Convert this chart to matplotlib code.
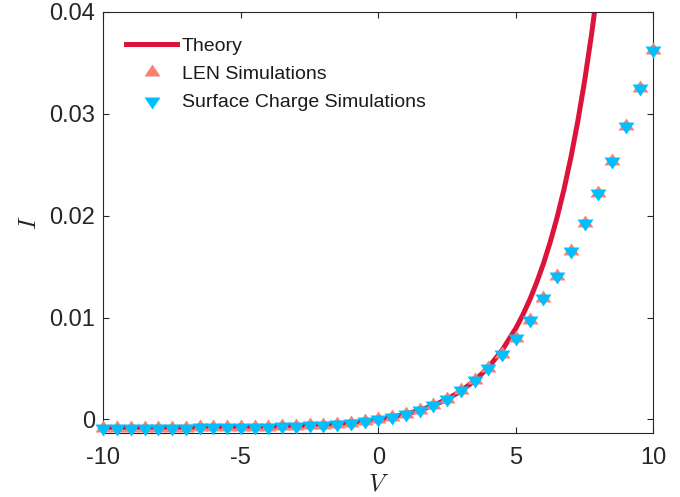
import numpy as np
import matplotlib
matplotlib.use("Agg")
import matplotlib.pyplot as plt

plt.rcParams['font.family'] = ['Liberation Sans', 'DejaVu Sans']
plt.rcParams['mathtext.fontset'] = 'cm'
plt.rcParams['axes.unicode_minus'] = False

# theory curve
v_theory = [-10, -9.5, -9, -8.5, -8, -7.5, -7, -6.5, -6, -5.5, -5, -4.5, -4, -3.5, -3,
            -2.5, -2, -1.5, -1, -0.5, 0, 0.5, 1, 1.5, 2, 2.5, 3, 3.5, 4, 4.5, 5, 5.25,
            5.5, 5.75, 6, 6.25, 6.5, 6.75, 7, 7.25, 7.5, 7.75, 8]
i_theory = [-0.000795, -0.000793, -0.000791, -0.000789, -0.000785, -0.000781, -0.000776,
            -0.000769, -0.000760, -0.000749, -0.000734, -0.000716, -0.000692, -0.000661,
            -0.000622, -0.000571, -0.000506, -0.000422, -0.000315, -0.000177, 0.0,
            0.000227, 0.000519, 0.000894, 0.001375, 0.001992, 0.002785, 0.003804,
            0.005111, 0.00679, 0.008946, 0.010243, 0.011714, 0.013384, 0.015268,
            0.017408, 0.019832, 0.022578, 0.025692, 0.029216, 0.033217, 0.037744, 0.042878]

# simulation points
v_sim = [-10, -9.5, -9, -8.5, -8, -7.5, -7, -6.5, -6, -5.5, -5, -4.5, -4, -3.5, -3, -2.5,
         -2, -1.5, -1, -0.5, 0, 0.5, 1, 1.5, 2, 2.5, 3, 3.5, 4, 4.5, 5, 5.5, 6, 6.5, 7,
         7.5, 8, 8.5, 9, 9.5, 10]
i_len = [-0.00082, -0.00082, -0.00081, -0.00081, -0.00081, -0.00080, -0.00080, -0.00079,
         -0.00078, -0.00077, -0.00075, -0.00073, -0.00071, -0.00068, -0.00063, -0.00058,
         -0.00051, -0.00043, -0.00032, -0.00018, 0.0, 0.00025, 0.00055, 0.00092, 0.00140,
         0.00202, 0.00285, 0.00385, 0.00505, 0.00645, 0.00800, 0.00975, 0.0119, 0.0141,
         0.0165, 0.0193, 0.0222, 0.0254, 0.0288, 0.0325, 0.0363]
i_surf = [-0.00082, -0.00082, -0.00081, -0.00081, -0.00081, -0.00080, -0.00080, -0.00079,
          -0.00078, -0.00077, -0.00075, -0.00073, -0.00071, -0.00068, -0.00063, -0.00058,
          -0.00051, -0.00043, -0.00032, -0.00018, 0.0, 0.00025, 0.00055, 0.00092, 0.00140,
          0.00202, 0.00285, 0.00385, 0.00505, 0.00645, 0.00800, 0.00975, 0.0119, 0.0141,
          0.0165, 0.0193, 0.0222, 0.0254, 0.0288, 0.0325, 0.0363]

# triangles centred on their centroid, wider than tall (matlab look)
tri_up = [(0, 0.667), (-0.667, -0.333), (0.667, -0.333), (0, 0.667)]
tri_dn = [(0, -0.667), (-0.667, 0.333), (0.667, 0.333), (0, -0.667)]

gray = '#262626'

fig = plt.figure(figsize=(6.8, 4.97), dpi=100)
ax = fig.add_axes([0.1519, 0.1294, 0.8089, 0.8465])

ax.plot(v_theory, i_theory, color='#DC143C', lw=3.6, label='Theory', zorder=2)
ax.plot(v_sim, i_len, ls='none', marker=tri_up, ms=11.5, color='#FA8072',
        mec='none', label='LEN Simulations', clip_on=False, zorder=3)
ax.plot(v_sim, i_surf, ls='none', marker=tri_dn, ms=11.5, color='#00BFFF',
        mec='none', label='Surface Charge Simulations', clip_on=False, zorder=4)

ax.set_xlim(-10, 10)
ax.set_ylim(-0.0013, 0.04)
ax.set_xticks([-10, -5, 0, 5, 10])
ax.set_yticks([0, 0.01, 0.02, 0.03, 0.04])
ax.set_yticklabels(['0', '0.01', '0.02', '0.03', '0.04'])

for s in ax.spines.values():
    s.set_color(gray)
    s.set_linewidth(0.8)
ax.tick_params(direction='in', length=4, width=0.8, colors=gray, labelsize=17,
               top=True, right=True)
ax.tick_params(axis='x', pad=10)
ax.tick_params(axis='y', pad=6)

ax.set_xlabel(r'$V$', fontsize=18, color=gray, labelpad=2)
ax.set_ylabel(r'$I$', fontsize=18, color=gray, labelpad=6)

leg = ax.legend(loc='upper left', bbox_to_anchor=(0.042, 0.94), frameon=False,
                fontsize=14, handlelength=2.6, handletextpad=0.25, labelspacing=0.55,
                borderpad=0, borderaxespad=0)
for t in leg.get_texts():
    t.set_color('#1a1a1a')

fig.savefig('out.png', dpi=100)
